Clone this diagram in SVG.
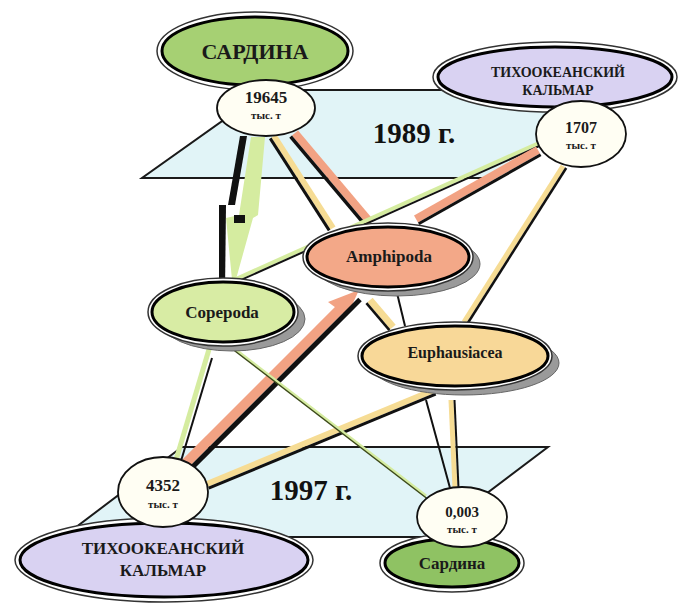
<svg xmlns="http://www.w3.org/2000/svg" width="682" height="603" viewBox="0 0 682 603">
<style>
.plane{fill:#e1f4f7;stroke:#1a1a1a;stroke-width:2}
.yr{font-family:"Liberation Serif",serif;font-weight:bold;font-size:29px;fill:#111;text-anchor:middle}
.lbl{font-family:"Liberation Serif",serif;font-weight:bold;fill:#1a1a1a;text-anchor:middle}
.outer{fill:#fff;stroke:#333;stroke-width:1.5}
.inner{stroke:#000;stroke-width:3}
.shadow{fill:#9a9a9a;stroke:#666;stroke-width:1}
.circ{fill:#fffef3;stroke:#111;stroke-width:1.8}
.blk{stroke:#111;fill:none;stroke-linecap:butt}
.grn{stroke:#d5eca0;fill:none}
.yel{stroke:#f6dc94;fill:none}
.sal{stroke:#f2a283;fill:none}
</style>
<rect width="682" height="603" fill="#fff"/>
<g id="planes">
<polygon class="plane" points="266,90 617,90 493,178 142,178"/>
<polygon class="plane" points="182,447 548,447 429,537 63,537"/>
<text class="yr" x="414" y="143">1989 г.</text>
<text class="yr" x="311" y="500">1997 г.</text>
</g>
<g id="connectors">
<!-- 19645 -> Copepoda -->
<polygon points="251,137 265,137 258,215 253,218 233,290 226,218 239,215" fill="#d5eca0"/>
<polygon points="240,136 247,136 235,205 228,205" fill="#111"/>
<polygon points="219,205 226,205 225,292 219,292" fill="#111"/>
<rect x="234" y="215" width="11" height="8" fill="#111"/>
<!-- 19645 -> Amphipoda (yellow) -->
<line class="yel" x1="274" y1="136" x2="333" y2="228" stroke-width="6"/>
<line class="blk" x1="270.2" y1="138.4" x2="329.2" y2="230.4" stroke-width="3"/>
<!-- 19645 -> Amphipoda (salmon) -->
<line class="sal" x1="295" y1="133" x2="370" y2="222" stroke-width="8"/>
<line class="blk" x1="290.6" y1="136.7" x2="365.6" y2="225.7" stroke-width="3.5"/>
<!-- 1707 -> Copepoda -->
<line class="grn" x1="539" y1="143" x2="236" y2="279" stroke-width="4"/>
<line class="blk" x1="540.2" y1="145.7" x2="237.2" y2="281.7" stroke-width="2"/>
<!-- 1707 -> Amphipoda -->
<line class="sal" x1="538" y1="150" x2="416" y2="219" stroke-width="8"/>
<line class="blk" x1="540.7" y1="154.8" x2="418.7" y2="223.8" stroke-width="3"/>
<!-- 1707 -> Euphausiacea -->
<line class="yel" x1="563" y1="166" x2="464" y2="322" stroke-width="5"/>
<line class="blk" x1="566.2" y1="168" x2="467.2" y2="324" stroke-width="2.5"/>
<!-- 4352 -> Copepoda -->
<line class="grn" x1="176" y1="460" x2="210" y2="346" stroke-width="5"/>
<line class="blk" x1="181" y1="461" x2="212" y2="358" stroke-width="2"/>
<!-- 4352 -> Amphipoda -->
<line class="sal" x1="186" y1="463" x2="340" y2="309" stroke-width="10"/>
<polygon points="328,302 347,316 359,290" fill="#f2a283"/>
<line class="blk" x1="191.3" y1="468.3" x2="360" y2="299.6" stroke-width="5"/>
<!-- 4352 -> Euphausiacea -->
<line class="yel" x1="207" y1="484" x2="434" y2="390" stroke-width="6"/>
<line class="blk" x1="208.7" y1="488.2" x2="435.7" y2="394.2" stroke-width="3"/>
<!-- 0,003 -> Copepoda -->
<line class="grn" x1="426" y1="496" x2="232" y2="347" stroke-width="3"/>
<line x1="427" y1="498.5" x2="233" y2="349.5" stroke-width="1.5" stroke="#3d4a1a"/>
<!-- 0,003 -> Euphausiacea -->
<line class="blk" x1="450" y1="488" x2="426" y2="400" stroke-width="2"/>
<line class="yel" x1="455" y1="488" x2="451" y2="400" stroke-width="5"/>
<line class="blk" x1="458.5" y1="488" x2="454.5" y2="400" stroke-width="2"/>
<!-- Amphipoda -> Euphausiacea -->
<line class="blk" x1="397" y1="293" x2="405" y2="326" stroke-width="2"/>
<line class="yel" x1="370" y1="300" x2="393" y2="327" stroke-width="7"/>
<line class="blk" x1="366.4" y1="303.1" x2="389.4" y2="330.1" stroke-width="2.5"/>
</g>
<g id="node-sardina-top">
<ellipse class="outer" cx="255" cy="51" rx="98" ry="39"/>
<ellipse class="inner" cx="255" cy="51" rx="93" ry="34" fill="#a6d073"/>
<text class="lbl" x="255" y="59" font-size="22">САРДИНА</text>
</g>
<g id="node-19645">
<ellipse class="circ" cx="266" cy="108" rx="49" ry="28"/>
<text class="lbl" x="266" y="103" font-size="17">19645</text>
<text class="lbl" x="266" y="119" font-size="11">тыс. т</text>
</g>
<g id="node-squid-top">
<ellipse class="outer" cx="555" cy="77" rx="122" ry="35"/>
<ellipse class="inner" cx="555" cy="77" rx="117" ry="30" fill="#d9d2f2"/>
<text class="lbl" x="558" y="77" font-size="14">ТИХООКЕАНСКИЙ</text>
<text class="lbl" x="558" y="95" font-size="14">КАЛЬМАР</text>
</g>
<g id="node-1707">
<ellipse class="circ" cx="581" cy="134" rx="45" ry="33"/>
<text class="lbl" x="581" y="133" font-size="16">1707</text>
<text class="lbl" x="581" y="149" font-size="11">тыс. т</text>
</g>
<g id="node-amphipoda">
<ellipse class="shadow" cx="397" cy="264" rx="83" ry="32"/>
<ellipse class="outer" cx="388" cy="257" rx="85" ry="34"/>
<ellipse class="inner" cx="388" cy="257" rx="81" ry="30" fill="#f3a888"/>
<text class="lbl" x="389" y="262" font-size="17">Amphipoda</text>
</g>
<g id="node-copepoda">
<ellipse class="shadow" cx="232" cy="319" rx="73" ry="32"/>
<ellipse class="outer" cx="223" cy="312" rx="75" ry="34"/>
<ellipse class="inner" cx="223" cy="312" rx="71" ry="30" fill="#d8eca4"/>
<text class="lbl" x="222" y="318" font-size="17">Copepoda</text>
</g>
<g id="node-euphausiacea">
<ellipse class="shadow" cx="464" cy="363" rx="95" ry="32"/>
<ellipse class="outer" cx="455" cy="356" rx="97" ry="34"/>
<ellipse class="inner" cx="455" cy="356" rx="93" ry="30" fill="#f8d898"/>
<text class="lbl" x="455" y="358" font-size="16">Euphausiacea</text>
</g>
<g id="node-squid-bottom">
<ellipse class="outer" cx="164" cy="560" rx="149" ry="42"/>
<ellipse class="inner" cx="164" cy="560" rx="144" ry="37" fill="#d9d2f2"/>
<text class="lbl" x="163" y="554" font-size="17">ТИХООКЕАНСКИЙ</text>
<text class="lbl" x="163" y="576" font-size="17">КАЛЬМАР</text>
</g>
<g id="node-4352">
<ellipse class="circ" cx="163" cy="492" rx="45" ry="35"/>
<text class="lbl" x="163" y="491" font-size="17">4352</text>
<text class="lbl" x="163" y="508" font-size="11">тыс. т</text>
</g>
<g id="node-sardina-bottom">
<ellipse class="outer" cx="452" cy="563" rx="72" ry="29"/>
<ellipse class="inner" cx="452" cy="563" rx="67" ry="24" fill="#8fc263"/>
<text class="lbl" x="452" y="569" font-size="17">Сардина</text>
</g>
<g id="node-0003">
<ellipse class="circ" cx="462" cy="517" rx="45" ry="30"/>
<text class="lbl" x="462" y="517" font-size="15">0,003</text>
<text class="lbl" x="462" y="533" font-size="11">тыс. т</text>
</g>
</svg>
